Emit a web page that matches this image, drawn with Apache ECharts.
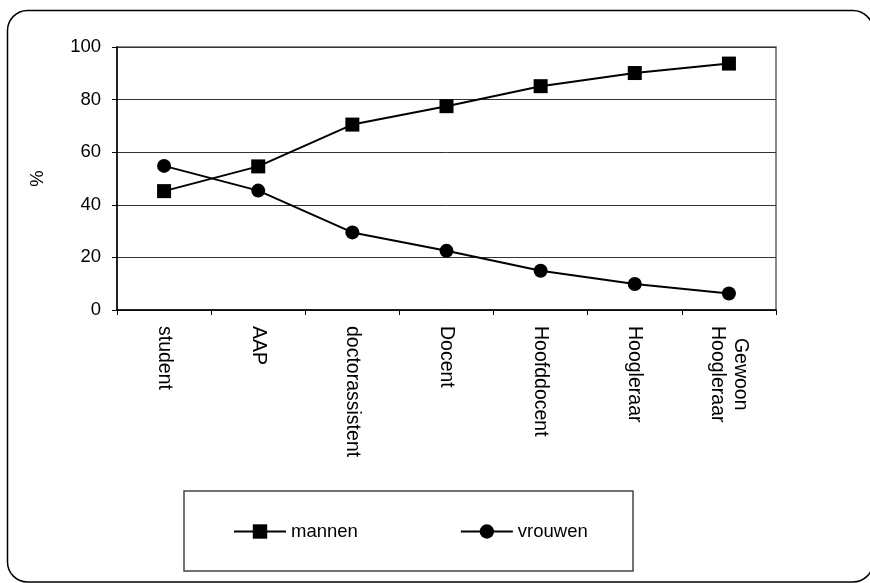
<!DOCTYPE html>
<html>
<head>
<meta charset="utf-8">
<script src="https://cdn.jsdelivr.net/npm/echarts@6/dist/echarts.min.js"></script>
<style>
html,body{margin:0;padding:0;background:#fff;}
#root{width:870px;height:583px;}
</style>
</head>
<body>
<div id="root"></div>
<script>
var categories=['student','AAP','doctorassistent','Docent','Hoofddocent','Hoogleraar','Gewoon\nHoogleraar'];
var mannen=[45.2,54.6,70.5,77.5,85.1,90.1,93.7];
var vrouwen=[54.8,45.4,29.5,22.5,14.9,9.9,6.3];
var yTicks={min:0,max:100,interval:20};

var font='"Liberation Sans", Arial, sans-serif';
var chart=echarts.init(document.getElementById('root'),null,{renderer:'canvas'});

var option={
  animation:false,
  backgroundColor:'#fff',
  textStyle:{fontFamily:font,color:'#000'},
  graphic:[
    {type:'rect',shape:{x:7.5,y:10.5,width:865.5,height:571.5,r:20},
     style:{fill:'none',stroke:'#000',lineWidth:1.5},z:-1},
    {type:'rect',shape:{x:184,y:491,width:449,height:80},
     style:{fill:'#fff',stroke:'#444',lineWidth:1.5},z:-1}
  ],
  grid:{left:117,right:94,top:47,bottom:273,show:true,borderColor:'#888',borderWidth:2,backgroundColor:'transparent'},
  legend:{
    left:233,top:522,padding:0,itemWidth:52,itemHeight:18,itemGap:102,
    textStyle:{fontFamily:font,fontSize:18.5,color:'#000'},
    data:['mannen','vrouwen']
  },
  xAxis:{
    type:'category',data:categories,boundaryGap:true,
    axisLine:{lineStyle:{color:'#000',width:1.5}},
    axisTick:{show:true,length:5,lineStyle:{color:'#000'}},
    axisLabel:{
      interval:0,rotate:-90,margin:16,color:'#000',
      fontFamily:font,fontSize:19.5,
      formatter:function(v){return v.split('\n').map(function(s){return '{c|'+s+'}';}).join('\n');},
      rich:{c:{align:'center',fontFamily:font,fontSize:19.5,lineHeight:23,color:'#000'}}
    }
  },
  yAxis:{
    type:'value',min:yTicks.min,max:yTicks.max,interval:yTicks.interval,
    name:'%',nameLocation:'middle',nameGap:70,
    nameTextStyle:{fontFamily:font,fontSize:18.5,color:'#000'},
    axisLine:{show:true,lineStyle:{color:'#000',width:1.5}},
    axisTick:{show:true,length:5,lineStyle:{color:'#000'}},
    axisLabel:{margin:16,color:'#000',fontFamily:font,fontSize:18.5},
    splitLine:{show:true,lineStyle:{color:'#333',width:1}}
  },
  series:[
    {name:'mannen',type:'line',data:mannen,symbol:'rect',symbolSize:14,
     lineStyle:{color:'#000',width:2},itemStyle:{color:'#000'}},
    {name:'vrouwen',type:'line',data:vrouwen,symbol:'circle',symbolSize:14,
     lineStyle:{color:'#000',width:2},itemStyle:{color:'#000'}}
  ]
};
option && chart.setOption(option);
</script>
</body>
</html>
